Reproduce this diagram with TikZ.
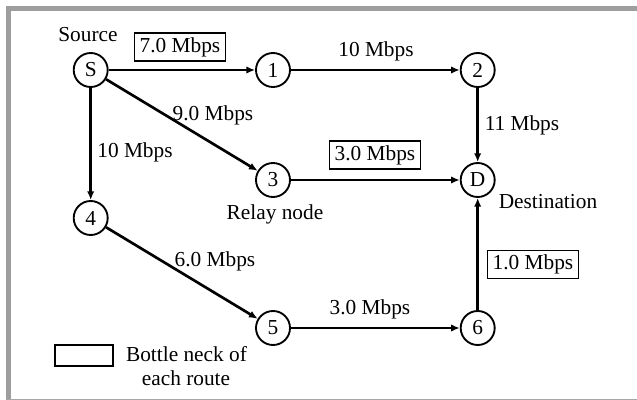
\documentclass[tikz,border=0pt]{standalone}
\usepackage{fontspec}
\setmainfont{Liberation Serif}
\usetikzlibrary{arrows.meta}
\begin{document}
\begin{tikzpicture}[x=0.75pt,y=-0.75pt,
  every node/.style={font=\fontsize{16pt}{18pt}\selectfont},
  vtx/.style={circle,draw,line width=1.4pt,minimum size=25.5pt,inner sep=0pt},
  link/.style={line width=2pt,-{Latex[length=6.5pt,width=5.5pt]}},
  lbl/.style={anchor=base,inner sep=0pt},
  neck/.style={draw,line width=1.1pt,minimum width=68pt,minimum height=21pt,inner sep=0pt},
  frame/.style={fill=black!38,draw=none}]
\useasboundingbox (0,0) rectangle (637,400);
% frame
\fill[frame] (6,6) rectangle (637,11);
\fill[frame] (6,6) rectangle (11,400);
\draw[black!35,line width=1pt] (6,399.3) -- (637,399.3);
% nodes
\node[vtx] (S) at (90.7,70) {S};
\node[vtx] (n1) at (273,70) {1};
\node[vtx] (n2) at (477.7,70) {2};
\node[vtx] (n3) at (273,180) {3};
\node[vtx] (D) at (477.7,180) {D};
\node[vtx] (n4) at (90.7,218) {4};
\node[vtx] (n5) at (273,328) {5};
\node[vtx] (n6) at (477.7,328) {6};
% links
\draw[link] (S) -- (n1);
\draw[link] (n1) -- (n2);
\draw[link] (S) -- (n3);
\draw[link] (S) -- (n4);
\draw[link] (n2) -- (D);
\draw[link] (n3) -- (D);
\draw[link] (n4) -- (n5);
\draw[link] (n5) -- (n6);
\draw[link] (n6) -- (D);
% labels
\node[lbl] (tsrc) at (88,41.7) {Source};
\node[neck] (b1) at (180,47) {7.0 Mbps};
\node[lbl] (t12) at (376,56) {10 Mbps};
\node[lbl] (tS3) at (213,120.7) {9.0 Mbps};
\node[lbl] (tS4) at (135,157) {10 Mbps};
\node[lbl] (t2D) at (522,130.7) {11 Mbps};
\node[neck] (b3) at (375,155) {3.0 Mbps};
\node[lbl] (trelay) at (275,219) {Relay node};
\node[lbl] (tdest) at (548,208) {Destination};
\node[lbl] (t45) at (215,266.7) {6.0 Mbps};
\node[lbl] (t56) at (370,314) {3.0 Mbps};
\node[neck] (b6) at (533,264.5) {1.0 Mbps};
\node[neck,minimum width=43.5pt,minimum height=15.75pt] (legbox) at (84,355.5) {};
\node[lbl] (leg1) at (186.5,361.7) {Bottle neck of};
\node[lbl] (leg2) at (186,385) {each route};
\end{tikzpicture}
\end{document}
